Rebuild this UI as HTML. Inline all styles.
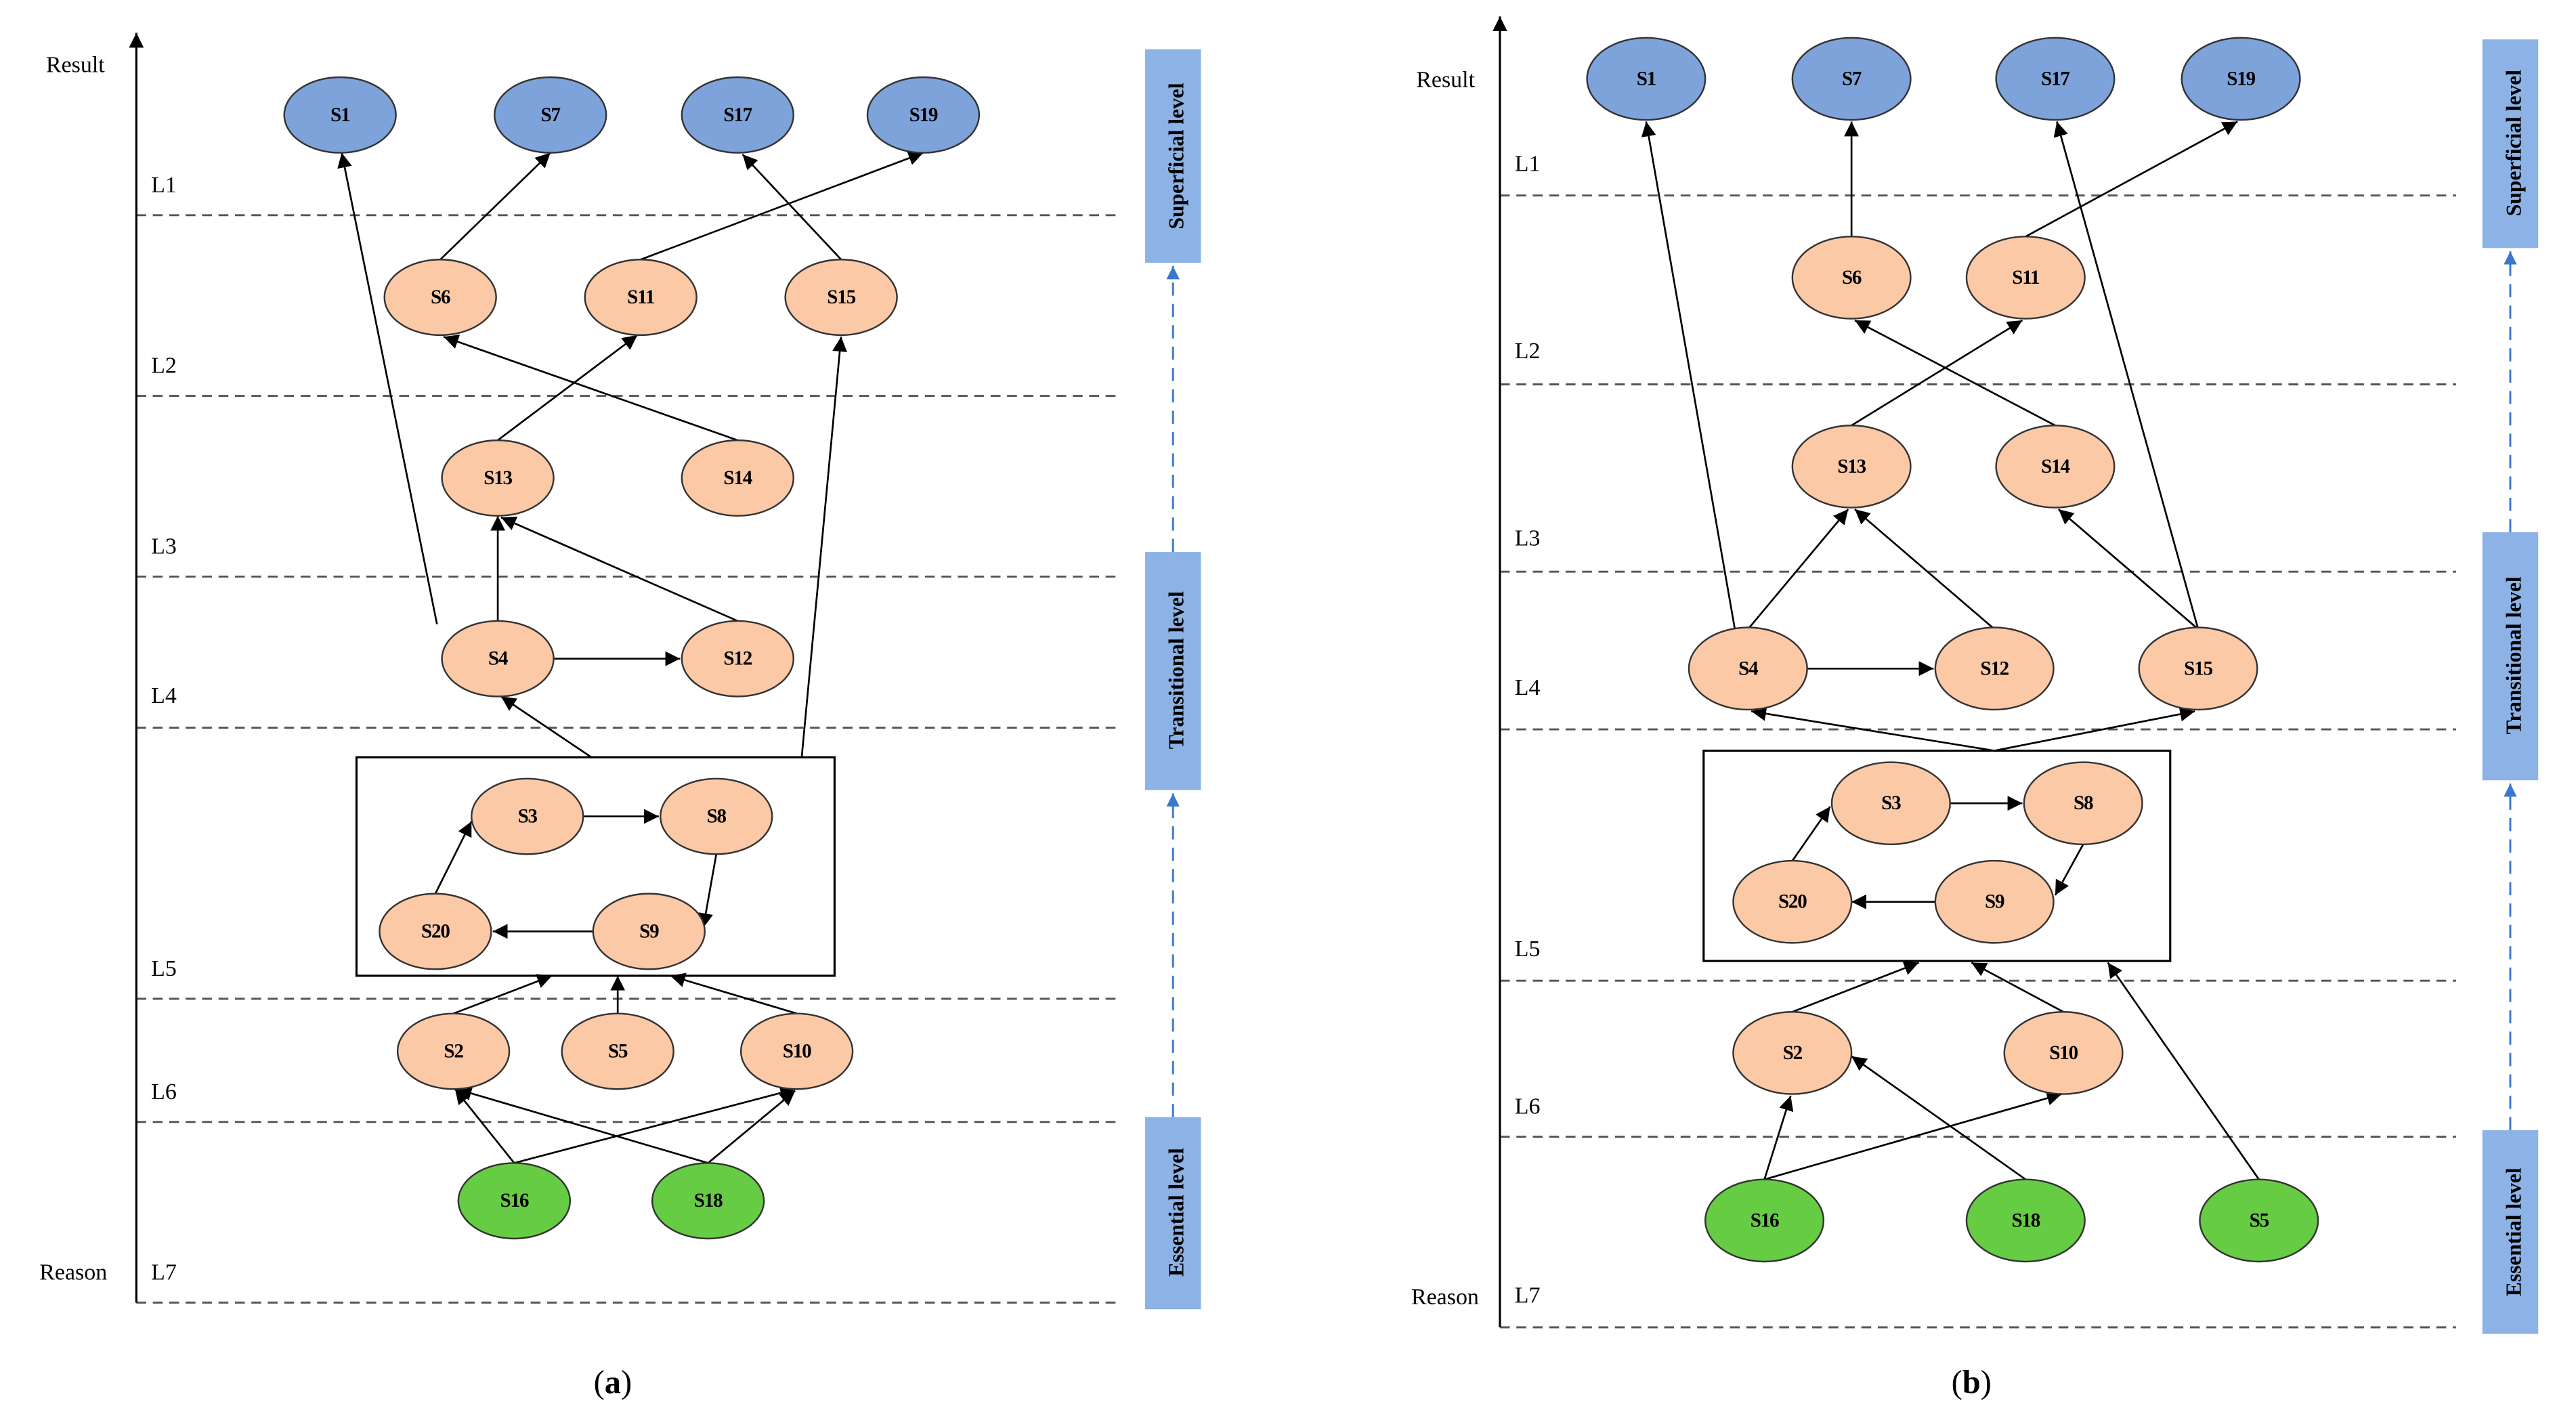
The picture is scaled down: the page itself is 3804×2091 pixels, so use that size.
<!DOCTYPE html>
<html><head><meta charset="utf-8"><style>
html,body{margin:0;padding:0;background:#fff}
svg{display:block}
text{font-family:"Liberation Serif",serif}
.n{font-size:12px;font-weight:bold;text-anchor:middle;dominant-baseline:central;letter-spacing:-0.5px}
.lb{font-size:14px}
.lv{font-size:13px;font-weight:bold;text-anchor:middle;dominant-baseline:central}
</style></head><body>
<svg width="3804" height="2091" viewBox="0 0 1568 862" preserveAspectRatio="none" xmlns="http://www.w3.org/2000/svg">
<defs>
<marker id="a" viewBox="0 0 10 10" refX="10" refY="5" markerWidth="9" markerHeight="9" markerUnits="userSpaceOnUse" orient="auto"><path d="M0,0L10,5L0,10z" fill="#000"/></marker>
<marker id="b" viewBox="0 0 10 10" refX="10" refY="5" markerWidth="8" markerHeight="8" markerUnits="userSpaceOnUse" orient="auto"><path d="M0,0L10,5L0,10z" fill="#3a78d0"/></marker>
</defs>
<g stroke="#555" stroke-width="1.2" stroke-dasharray="6,4">
<line x1="83" y1="131" x2="680" y2="131"/><line x1="83" y1="241" x2="680" y2="241"/><line x1="83" y1="351" x2="680" y2="351"/><line x1="83" y1="443" x2="680" y2="443"/><line x1="83" y1="608" x2="680" y2="608"/><line x1="83" y1="683" x2="680" y2="683"/><line x1="83" y1="793" x2="680" y2="793"/>
<line x1="913" y1="119" x2="1495" y2="119"/><line x1="913" y1="234" x2="1495" y2="234"/><line x1="913" y1="348" x2="1495" y2="348"/><line x1="913" y1="444" x2="1495" y2="444"/><line x1="913" y1="597" x2="1495" y2="597"/><line x1="913" y1="692" x2="1495" y2="692"/><line x1="913" y1="808" x2="1495" y2="808"/>
</g>
<g stroke="#000" stroke-width="1.3" marker-end="url(#a)">
<line x1="83" y1="793" x2="83" y2="20"/><line x1="913" y1="808" x2="913" y2="10"/>
</g>
<g class="lb">
<text x="28" y="44">Result</text><text x="24" y="779">Reason</text>
<text x="92" y="117">L1</text><text x="92" y="227">L2</text><text x="92" y="337">L3</text><text x="92" y="428">L4</text><text x="92" y="594">L5</text><text x="92" y="669">L6</text><text x="92" y="779">L7</text>
<text x="862" y="53">Result</text><text x="859" y="794">Reason</text>
<text x="922" y="104">L1</text><text x="922" y="218">L2</text><text x="922" y="332">L3</text><text x="922" y="423">L4</text><text x="922" y="582">L5</text><text x="922" y="678">L6</text><text x="922" y="793">L7</text>
</g>
<!-- level bars -->
<g fill="#8db3e6">
<rect x="697" y="30" width="34" height="130"/><rect x="697" y="336" width="34" height="145"/><rect x="697" y="680" width="34" height="117"/>
<rect x="1511" y="24" width="34" height="127"/><rect x="1511" y="324" width="34" height="151"/><rect x="1511" y="688" width="34" height="124"/>
</g>
<g stroke="#3a78d0" stroke-width="1.2" stroke-dasharray="8,5" marker-end="url(#b)">
<line x1="714" y1="336" x2="714" y2="162"/><line x1="714" y1="680" x2="714" y2="483"/>
<line x1="1528" y1="324" x2="1528" y2="153"/><line x1="1528" y1="688" x2="1528" y2="477"/>
</g>
<g class="lv">
<text transform="translate(716,95) rotate(-90)">Superficial level</text>
<text transform="translate(716,408) rotate(-90)">Transitional level</text>
<text transform="translate(716,738) rotate(-90)">Essential level</text>
<text transform="translate(1530,87) rotate(-90)">Superficial level</text>
<text transform="translate(1530,399) rotate(-90)">Transitional level</text>
<text transform="translate(1530,750) rotate(-90)">Essential level</text>
</g>
<rect x="217" y="461" width="291" height="133" fill="none" stroke="#000" stroke-width="1.3"/>
<rect x="1037" y="457" width="284" height="128" fill="none" stroke="#000" stroke-width="1.3"/>
<!-- edges a -->
<g stroke="#000" stroke-width="1.1" marker-end="url(#a)">
<line x1="268" y1="158" x2="335" y2="93"/>
<line x1="390" y1="158" x2="562" y2="93"/>
<line x1="512" y1="158" x2="452" y2="94"/>
<line x1="266" y1="380" x2="208" y2="93"/>
<line x1="449" y1="268" x2="270" y2="205"/>
<line x1="303" y1="268" x2="388" y2="204"/>
<line x1="303" y1="378" x2="303" y2="314"/>
<line x1="449" y1="378" x2="305" y2="315"/>
<line x1="337" y1="401" x2="414" y2="401"/>
<line x1="360" y1="461" x2="305" y2="424"/>
<line x1="488" y1="461" x2="512" y2="205"/>
<line x1="355" y1="497" x2="401" y2="497"/>
<line x1="436" y1="520" x2="428" y2="565"/>
<line x1="361" y1="567" x2="300" y2="567"/>
<line x1="265" y1="544" x2="287" y2="500"/>
<line x1="276" y1="617" x2="336" y2="594"/>
<line x1="376" y1="617" x2="376" y2="594"/>
<line x1="485" y1="617" x2="408" y2="594"/>
<line x1="313" y1="708" x2="277" y2="663"/>
<line x1="313" y1="708" x2="484" y2="663"/>
<line x1="431" y1="708" x2="278" y2="663"/>
<line x1="431" y1="708" x2="484" y2="664"/>
</g>
<!-- edges b -->
<g stroke="#000" stroke-width="1.1" marker-end="url(#a)">
<line x1="1056" y1="383" x2="1002" y2="74"/>
<line x1="1127" y1="144" x2="1127" y2="74"/>
<line x1="1233" y1="144" x2="1362" y2="74"/>
<line x1="1338" y1="383" x2="1252" y2="74"/>
<line x1="1127" y1="259" x2="1231" y2="195"/>
<line x1="1251" y1="259" x2="1129" y2="195"/>
<line x1="1064" y1="383" x2="1125" y2="310"/>
<line x1="1214" y1="383" x2="1129" y2="310"/>
<line x1="1338" y1="383" x2="1253" y2="310"/>
<line x1="1100" y1="407" x2="1177" y2="407"/>
<line x1="1214" y1="457" x2="1066" y2="433"/>
<line x1="1214" y1="457" x2="1336" y2="433"/>
<line x1="1187" y1="489" x2="1231" y2="489"/>
<line x1="1268" y1="514" x2="1251" y2="545"/>
<line x1="1178" y1="549" x2="1127" y2="549"/>
<line x1="1091" y1="524" x2="1114" y2="491"/>
<line x1="1091" y1="616" x2="1168" y2="586"/>
<line x1="1256" y1="616" x2="1200" y2="586"/>
<line x1="1375" y1="718" x2="1283" y2="586"/>
<line x1="1074" y1="718" x2="1090" y2="667"/>
<line x1="1074" y1="718" x2="1255" y2="666"/>
<line x1="1233" y1="718" x2="1127" y2="643"/>
</g>
<!-- nodes -->
<g stroke="#333" stroke-width="1">
<g fill="#7ea3db">
<ellipse cx="207" cy="70" rx="34" ry="23"/><ellipse cx="335" cy="70" rx="34" ry="23"/><ellipse cx="449" cy="70" rx="34" ry="23"/><ellipse cx="562" cy="70" rx="34" ry="23"/>
<ellipse cx="1002" cy="48" rx="36" ry="25"/><ellipse cx="1127" cy="48" rx="36" ry="25"/><ellipse cx="1251" cy="48" rx="36" ry="25"/><ellipse cx="1364" cy="48" rx="36" ry="25"/>
</g>
<g fill="#fcc9a6">
<ellipse cx="268" cy="181" rx="34" ry="23"/><ellipse cx="390" cy="181" rx="34" ry="23"/><ellipse cx="512" cy="181" rx="34" ry="23"/>
<ellipse cx="303" cy="291" rx="34" ry="23"/><ellipse cx="449" cy="291" rx="34" ry="23"/>
<ellipse cx="303" cy="401" rx="34" ry="23"/><ellipse cx="449" cy="401" rx="34" ry="23"/>
<ellipse cx="321" cy="497" rx="34" ry="23"/><ellipse cx="436" cy="497" rx="34" ry="23"/><ellipse cx="265" cy="567" rx="34" ry="23"/><ellipse cx="395" cy="567" rx="34" ry="23"/>
<ellipse cx="276" cy="640" rx="34" ry="23"/><ellipse cx="376" cy="640" rx="34" ry="23"/><ellipse cx="485" cy="640" rx="34" ry="23"/>
<ellipse cx="1127" cy="169" rx="36" ry="25"/><ellipse cx="1233" cy="169" rx="36" ry="25"/>
<ellipse cx="1127" cy="284" rx="36" ry="25"/><ellipse cx="1251" cy="284" rx="36" ry="25"/>
<ellipse cx="1064" cy="407" rx="36" ry="25"/><ellipse cx="1214" cy="407" rx="36" ry="25"/><ellipse cx="1338" cy="407" rx="36" ry="25"/>
<ellipse cx="1151" cy="489" rx="36" ry="25"/><ellipse cx="1268" cy="489" rx="36" ry="25"/><ellipse cx="1091" cy="549" rx="36" ry="25"/><ellipse cx="1214" cy="549" rx="36" ry="25"/>
<ellipse cx="1091" cy="641" rx="36" ry="25"/><ellipse cx="1256" cy="641" rx="36" ry="25"/>
</g>
<g fill="#66cc44">
<ellipse cx="313" cy="731" rx="34" ry="23"/><ellipse cx="431" cy="731" rx="34" ry="23"/>
<ellipse cx="1074" cy="743" rx="36" ry="25"/><ellipse cx="1233" cy="743" rx="36" ry="25"/><ellipse cx="1375" cy="743" rx="36" ry="25"/>
</g>
</g>
<g class="n">
<text x="207" y="70">S1</text><text x="335" y="70">S7</text><text x="449" y="70">S17</text><text x="562" y="70">S19</text>
<text x="268" y="181">S6</text><text x="390" y="181">S11</text><text x="512" y="181">S15</text>
<text x="303" y="291">S13</text><text x="449" y="291">S14</text>
<text x="303" y="401">S4</text><text x="449" y="401">S12</text>
<text x="321" y="497">S3</text><text x="436" y="497">S8</text><text x="265" y="567">S20</text><text x="395" y="567">S9</text>
<text x="276" y="640">S2</text><text x="376" y="640">S5</text><text x="485" y="640">S10</text>
<text x="313" y="731">S16</text><text x="431" y="731">S18</text>
<text x="1002" y="48">S1</text><text x="1127" y="48">S7</text><text x="1251" y="48">S17</text><text x="1364" y="48">S19</text>
<text x="1127" y="169">S6</text><text x="1233" y="169">S11</text>
<text x="1127" y="284">S13</text><text x="1251" y="284">S14</text>
<text x="1064" y="407">S4</text><text x="1214" y="407">S12</text><text x="1338" y="407">S15</text>
<text x="1151" y="489">S3</text><text x="1268" y="489">S8</text><text x="1091" y="549">S20</text><text x="1214" y="549">S9</text>
<text x="1091" y="641">S2</text><text x="1256" y="641">S10</text>
<text x="1074" y="743">S16</text><text x="1233" y="743">S18</text><text x="1375" y="743">S5</text>
</g>
<text x="373" y="848" font-size="20" text-anchor="middle">(<tspan font-weight="bold">a</tspan>)</text>
<text x="1200" y="848" font-size="20" text-anchor="middle">(<tspan font-weight="bold">b</tspan>)</text>
</svg>
</body></html>
